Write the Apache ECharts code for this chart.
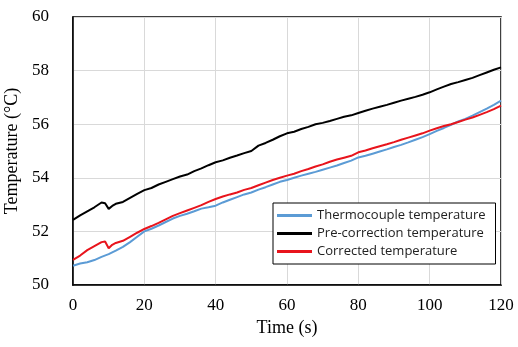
<!DOCTYPE html>
<html>
<head>
<meta charset="utf-8">
<script src="https://cdn.jsdelivr.net/npm/echarts@6/dist/echarts.min.js"></script>
<style>html,body{margin:0;padding:0;background:#fff}#c{width:518px;height:347px}</style>
</head>
<body>
<div id="c"></div>
<script>
var timeBlack = [0,2,4,6,8,9,10,11,12,14,16,18,20,22,24,26,28,30,32,34,36,38,40,42,44,46,48,50,52,54,56,58,60,62,64,66,68,70,72,74,76,78,80,82,84,86,88,90,92,94,96,98,100,102,104,106,108,110,112,114,116,118,120];
var preCorrection = [52.43,52.6,52.75,52.9,53.08,53.05,52.84,52.95,53.03,53.1,53.25,53.4,53.54,53.62,53.75,53.85,53.95,54.05,54.12,54.25,54.35,54.47,54.58,54.65,54.75,54.83,54.92,55.0,55.2,55.3,55.42,55.55,55.66,55.72,55.82,55.9,56.0,56.05,56.12,56.2,56.28,56.33,56.42,56.5,56.58,56.65,56.72,56.8,56.88,56.95,57.02,57.1,57.19,57.3,57.4,57.5,57.57,57.65,57.73,57.83,57.93,58.03,58.12];
var corrected = [50.94,51.1,51.3,51.45,51.6,51.62,51.37,51.5,51.57,51.65,51.8,51.95,52.09,52.2,52.32,52.45,52.58,52.68,52.78,52.88,52.98,53.1,53.21,53.3,53.38,53.45,53.55,53.62,53.72,53.82,53.92,54.0,54.08,54.15,54.25,54.33,54.42,54.5,54.6,54.68,54.75,54.82,54.95,55.02,55.1,55.18,55.25,55.33,55.42,55.5,55.58,55.66,55.76,55.85,55.93,56.0,56.08,56.17,56.25,56.35,56.45,56.56,56.69];
var timeBlue = [0,2,4,6,8,10,12,14,16,18,20,22,24,26,28,30,32,34,36,38,40,42,44,46,48,50,52,54,56,58,60,62,64,66,68,70,72,74,76,78,80,82,84,86,88,90,92,94,96,98,100,102,104,106,108,110,112,114,116,118,120];
var thermocouple = [50.72,50.8,50.85,50.93,51.05,51.15,51.28,51.42,51.6,51.8,52.0,52.1,52.22,52.35,52.48,52.58,52.66,52.75,52.85,52.9,52.96,53.08,53.18,53.28,53.38,53.45,53.56,53.65,53.75,53.85,53.92,54.0,54.08,54.15,54.22,54.3,54.38,54.46,54.55,54.64,54.76,54.82,54.9,54.98,55.06,55.15,55.23,55.32,55.42,55.52,55.63,55.75,55.86,55.98,56.1,56.2,56.32,56.45,56.58,56.72,56.88];
var seriesNames = ['Thermocouple temperature','Pre-correction temperature','Corrected temperature'];

function pairs(t, v){ return t.map(function(x,i){ return [x, v[i]]; }); }

var chart = echarts.init(document.getElementById('c'), null, {renderer:'canvas'});
var serif = 'Liberation Serif';
chart.setOption({
  animation:false,
  backgroundColor:'#fff',
  grid:{left:73, right:17, top:17, bottom:62, outerBoundsMode:'none', containLabel:false, show:true, borderColor:'#000', borderWidth:1.5, backgroundColor:'transparent'},
  legend:{
    orient:'vertical', left:273, top:203,
    backgroundColor:'#fff', borderColor:'#000', borderWidth:1,
    padding:[6,10,6,4], itemGap:5, itemWidth:35, itemHeight:3, icon:'rect',
    textStyle:{fontFamily:'Open Sans', fontSize:13, color:'#222'},
    data:seriesNames
  },
  xAxis:{
    type:'value', min:0, max:120, interval:20,
    name:'Time (s)', nameLocation:'middle', nameGap:34,
    nameTextStyle:{fontFamily:serif, fontSize:18, color:'#000'},
    axisLine:{show:true, lineStyle:{color:'#000', width:1.5}},
    axisTick:{show:false},
    axisLabel:{fontFamily:serif, fontSize:17, color:'#000', margin:12},
    splitLine:{show:true, lineStyle:{color:'#d9d9d9', width:1}}
  },
  yAxis:{
    type:'value', min:50, max:60, interval:2,
    name:'Temperature (°C)', nameLocation:'middle', nameGap:48, nameRotate:90,
    nameTextStyle:{fontFamily:serif, fontSize:18, color:'#000'},
    axisLine:{show:true, lineStyle:{color:'#000', width:1.5}},
    axisTick:{show:false},
    axisLabel:{fontFamily:serif, fontSize:17, color:'#000', margin:24},
    splitLine:{show:true, lineStyle:{color:'#d9d9d9', width:1}}
  },
  series:[
    {name:seriesNames[0], type:'line', data:pairs(timeBlue, thermocouple), showSymbol:false, symbol:'none', lineStyle:{color:'#5b9bd5', width:2}, itemStyle:{color:'#5b9bd5'}, z:2},
    {name:seriesNames[1], type:'line', data:pairs(timeBlack, preCorrection), showSymbol:false, symbol:'none', lineStyle:{color:'#000', width:2}, itemStyle:{color:'#000'}, z:3},
    {name:seriesNames[2], type:'line', data:pairs(timeBlack, corrected), showSymbol:false, symbol:'none', lineStyle:{color:'#e8141c', width:2}, itemStyle:{color:'#e8141c'}, z:4}
  ]
});
</script>
</body>
</html>
